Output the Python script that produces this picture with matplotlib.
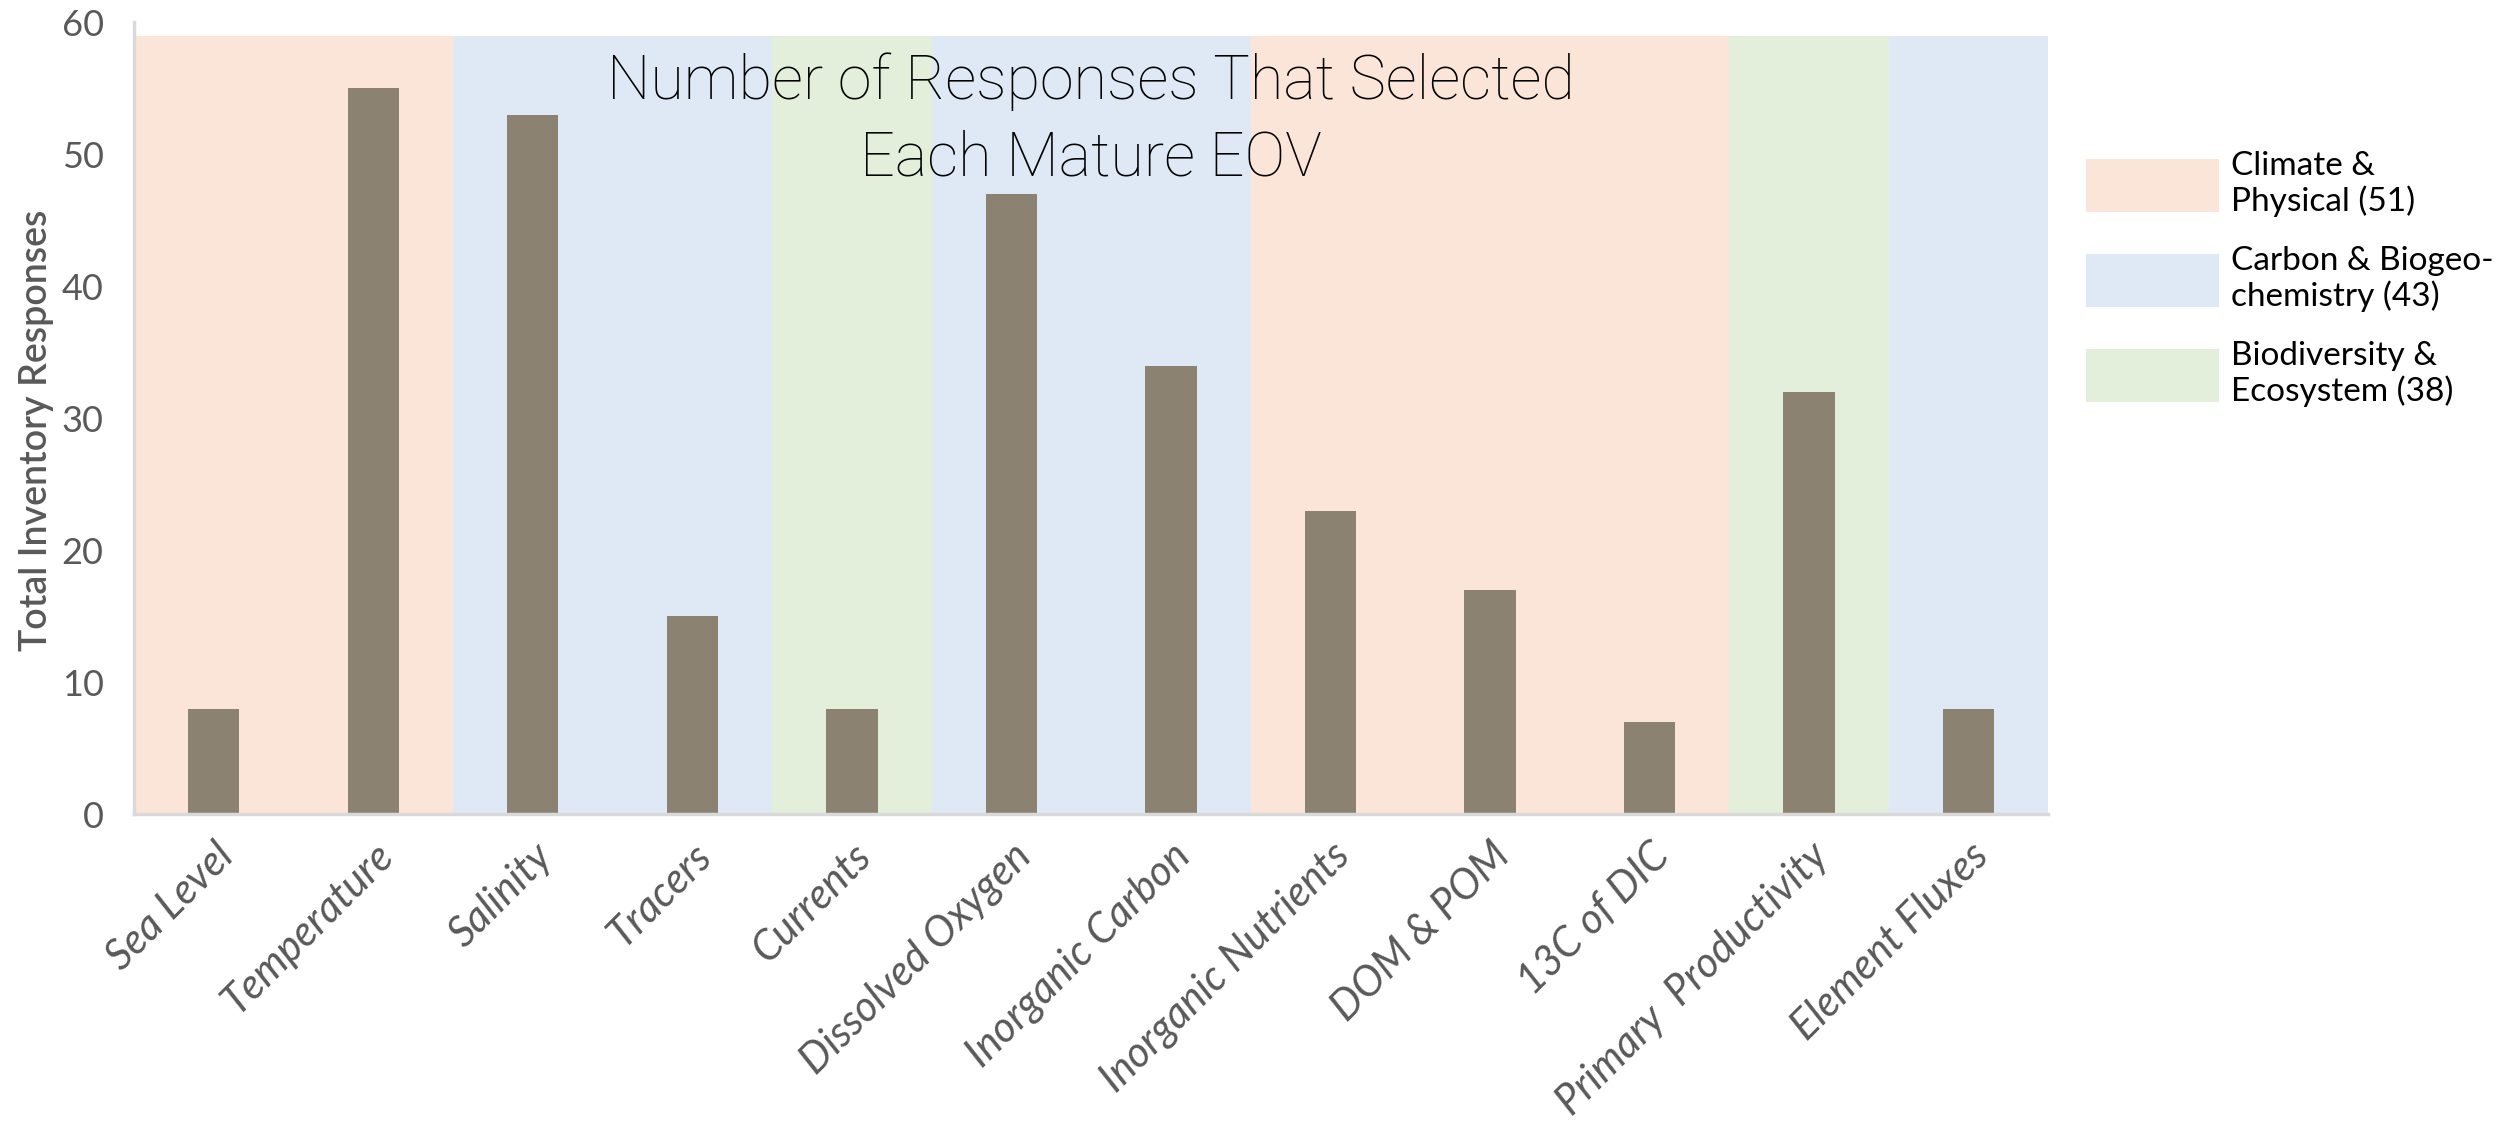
from matplotlib import pyplot as plt
from matplotlib.patches import Patch

categories = ['Sea Level', 'Temperature', 'Salinity', 'Tracers', 'Currents',
              'Dissolved Oxygen', 'Inorganic Carbon', 'Inorganic Nutrients',
              'DOM & POM', '13C of DIC', 'Primary  Productivity', 'Element Fluxes']
responses = [8, 55, 53, 15, 8, 47, 34, 23, 17, 7, 32, 8]
groups = ['climate', 'climate', 'carbon', 'carbon', 'bio', 'carbon', 'carbon',
          'climate', 'climate', 'climate', 'bio', 'carbon']
band_height = 59

group_names = ['climate', 'carbon', 'bio']
group_labels = ['Climate &\nPhysical (51)', 'Carbon & Biogeo-\nchemistry (43)',
                'Biodiversity &\nEcosystem (38)']
group_colors = {'climate': '#FAE5D8', 'carbon': '#DEE9F5', 'bio': '#E3EFDA'}

plt.rcParams['font.family'] = ['Lato', 'DejaVu Sans']

fig = plt.figure(figsize=(25.04, 11.24), dpi=100)
ax = fig.add_axes([0.0536, 0.2756, 0.7644, 0.7044])

x = list(range(len(categories)))

# background bands for the EOV groups
ax.bar(x, [band_height] * len(x), width=1.0,
       color=[group_colors[g] for g in groups], linewidth=0, zorder=1)
ax.bar(x, responses, width=0.32, color='#8B8272', linewidth=0, zorder=2)

ax.set_xlim(-0.5, len(x) - 0.5)
ax.set_ylim(0, 60)
ax.set_yticks(range(0, 61, 10))
ax.set_xticks(x)
ax.set_xticklabels(categories, rotation=45, ha='right', va='top',
                   rotation_mode='anchor', fontstyle='italic', fontsize=30)

ax.tick_params(axis='both', length=0, colors='#595959')
ax.tick_params(axis='y', pad=22, labelsize=26)
ax.tick_params(axis='x', pad=16)

for side in ['top', 'right']:
    ax.spines[side].set_visible(False)
for side in ['left', 'bottom']:
    ax.spines[side].set_color('#D9D9D9')
    ax.spines[side].set_linewidth(2.5)

ax.set_ylabel('Total Inventory Responses', fontsize=27, color='#595959',
              fontweight='semibold')
ax.yaxis.set_label_coords(-0.042, 0.485)

fig.text(0.4356, 0.893, 'Number of Responses That Selected\nEach Mature EOV',
         ha='center', va='center', fontsize=44, fontweight='light',
         family=['Roboto', 'DejaVu Sans'], color='black', linespacing=1.4, zorder=5)

handles = [Patch(facecolor=group_colors[g], edgecolor='none') for g in group_names]
fig.legend(handles, group_labels, loc='upper left', bbox_to_anchor=(0.833, 0.866),
           frameon=False, fontsize=24, handlelength=4.0, handleheight=2.05,
           labelspacing=0.85, handletextpad=0.35, borderaxespad=0, borderpad=0)

fig.savefig('out.png', dpi=100)
